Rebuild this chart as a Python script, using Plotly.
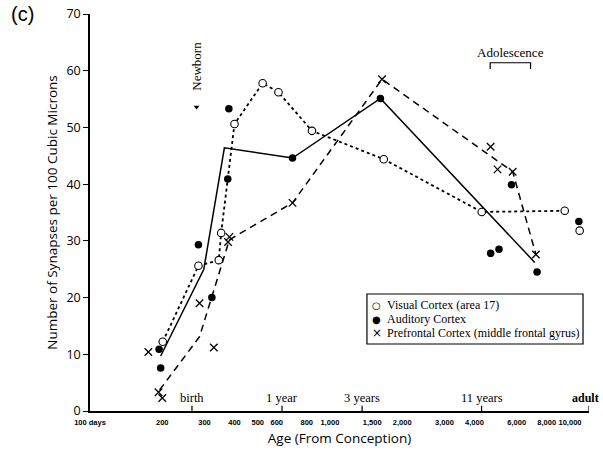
import numpy as np
import plotly.graph_objects as go

# ---------------- data (age in days from conception, synapses per 100 cubic microns)
visual_age = [201, 283, 344, 352, 400, 524, 610, 841, 1675, 4286, 9506, 10970]
visual_val = [12.2, 25.6, 26.6, 31.4, 50.6, 57.8, 56.2, 49.4, 44.4, 35.1, 35.3, 31.8]
visual_line_age = [201, 283, 344, 352, 400, 524, 610, 841, 1675, 4286, 9506]
visual_line_val = [12.2, 25.6, 26.6, 31.4, 50.6, 57.8, 56.2, 49.4, 44.4, 35.1, 35.3]

auditory_age = [194, 197, 283, 322, 375, 379, 698, 1622, 4670, 5060, 5700, 7290, 10890]
auditory_val = [10.9, 7.6, 29.3, 20.0, 40.9, 53.3, 44.6, 55.1, 27.8, 28.5, 39.9, 24.5, 33.4]
auditory_line_age = [197, 298, 363, 698, 1622, 7130]
auditory_line_val = [9.7, 25.0, 46.4, 44.6, 55.1, 26.2]

prefrontal_age = [175, 193, 200, 286, 328, 376, 381, 698, 1648, 4670, 4990, 5770, 7210]
prefrontal_val = [10.4, 3.3, 2.3, 19.0, 11.2, 29.8, 30.7, 36.7, 58.5, 46.6, 42.6, 42.2, 27.6]
prefrontal_line_age = [195, 286, 381, 698, 1648, 5770, 7210]
prefrontal_line_val = [3.7, 13.1, 30.2, 36.7, 58.5, 42.2, 27.6]

series_names = ["Visual Cortex (area 17)", "Auditory Cortex", "Prefrontal Cortex (middle frontal gyrus)"]
legend_symbols = ["○", "●", "×"]

tick_vals = [100, 200, 300, 400, 500, 600, 800, 1000, 1500, 2000, 3000, 4000, 6000, 8000, 10000]
tick_text = ["100 days", "200", "300", "400", "500", "600", "800", "1,000", "1,500",
             "2,000", "3,000", "4,000", "6,000", "8,000", "10,000"]

milestone_age = [266, 631, 1361, 4281, 12000]
milestone_text = ["birth", "1 year", "3 years", "11 years", "adult"]

newborn_age = 278
newborn_marker_y = 53.6
newborn_text_y = 60.8
adolescence_start, adolescence_end = 4650, 6850
adolescence_y = 61.4

x_range = [100, 12000]
y_range = [0, 70]

serif = "Liberation Serif"
sans = "Open Sans"

fig = go.Figure()

# mean lines
fig.add_trace(go.Scatter(x=visual_line_age, y=visual_line_val, mode="lines",
                         line=dict(color="black", width=1.8, dash="dot"), showlegend=False, hoverinfo="skip"))
fig.add_trace(go.Scatter(x=auditory_line_age, y=auditory_line_val, mode="lines",
                         line=dict(color="black", width=1.5), showlegend=False, hoverinfo="skip"))
fig.add_trace(go.Scatter(x=prefrontal_line_age, y=prefrontal_line_val, mode="lines",
                         line=dict(color="black", width=1.5, dash="7px,5px"), showlegend=False, hoverinfo="skip"))

# markers
fig.add_trace(go.Scatter(x=visual_age, y=visual_val, mode="markers", name=series_names[0],
                         marker=dict(symbol="circle", size=7.5, color="white",
                                     line=dict(color="black", width=1.1)), showlegend=False))
fig.add_trace(go.Scatter(x=auditory_age, y=auditory_val, mode="markers", name=series_names[1],
                         marker=dict(symbol="circle", size=7.5, color="black"), showlegend=False))
fig.add_trace(go.Scatter(x=prefrontal_age, y=prefrontal_val, mode="markers", name=series_names[2],
                         marker=dict(symbol="x-thin", size=7.5, color="black",
                                     line=dict(color="black", width=1.3)), showlegend=False))

# newborn arrow
fig.add_trace(go.Scatter(x=[newborn_age], y=[newborn_marker_y], mode="markers", showlegend=False,
                         marker=dict(symbol="triangle-down", size=5, color="black"), hoverinfo="skip"))

annotations = [
    dict(text="(c)", xref="paper", yref="paper", x=-0.162, y=1.0, xanchor="left", yanchor="middle",
         showarrow=False, font=dict(family="Liberation Sans", size=20, color="black")),
    dict(text="Newborn", x=np.log10(newborn_age), y=newborn_text_y, xref="x", yref="y",
         textangle=-90, showarrow=False, font=dict(family=serif, size=13, color="black")),
    dict(text="Adolescence", x=np.log10(np.sqrt(adolescence_start * adolescence_end)), y=adolescence_y,
         xref="x", yref="y", yanchor="bottom", yshift=1, showarrow=False,
         font=dict(family=serif, size=13, color="black")),
]
for a, t in zip(milestone_age, milestone_text):
    if t == "adult":
        annotations.append(dict(text="<b>adult</b>", x=np.log10(a), y=0, xref="x", yref="y",
                                yanchor="bottom", xanchor="right", xshift=12, yshift=4, showarrow=False,
                                font=dict(family=serif, size=12, color="black")))
    else:
        annotations.append(dict(text=t, x=np.log10(a), y=0, xref="x", yref="y", yanchor="bottom",
                                yshift=4, showarrow=False,
                                font=dict(family=serif, size=12.5, color="black")))

# hand-built legend (compact rows like the original)
leg_x0, leg_x1, leg_y1, leg_y0 = 0.555, 0.988, 0.2947, 0.1688
row_y = [0.267, 0.2317, 0.1965]
for sym, name, ry in zip(legend_symbols, series_names, row_y):
    annotations.append(dict(text=sym, xref="paper", yref="paper", x=0.575, y=ry, xanchor="center",
                            yanchor="middle", showarrow=False,
                            font=dict(family="DejaVu Sans", size=10 if sym != "×" else 12, color="black")))
    annotations.append(dict(text=name, xref="paper", yref="paper", x=0.591, y=ry, xanchor="left",
                            yanchor="middle", showarrow=False,
                            font=dict(family=serif, size=12, color="black")))

shapes = [dict(type="rect", xref="paper", yref="paper", x0=leg_x0, x1=leg_x1, y0=leg_y0, y1=leg_y1,
               line=dict(color="black", width=1.2), fillcolor="rgba(0,0,0,0)")]
for a in milestone_age:
    shapes.append(dict(type="line", x0=a, x1=a, xref="x", yref="paper", y0=0, y1=0.013,
                       line=dict(color="black", width=1.2)))
# adolescence bracket
shapes.append(dict(type="path", xref="x", yref="y",
                   path=f"M {adolescence_start},{adolescence_y - 1.1} L {adolescence_start},{adolescence_y} "
                        f"L {adolescence_end},{adolescence_y} L {adolescence_end},{adolescence_y - 1.1}",
                   line=dict(color="black", width=1.2)))

fig.update_layout(
    width=603, height=452,
    margin=dict(l=90, r=14, t=14, b=41),
    paper_bgcolor="white", plot_bgcolor="white",
    showlegend=False,
    annotations=annotations,
    shapes=shapes,
)

fig.update_xaxes(type="log", range=[np.log10(x_range[0]), np.log10(x_range[1])],
                 tickmode="array", tickvals=tick_vals, ticktext=tick_text,
                 ticks="", showgrid=False, zeroline=False, automargin=False,
                 showline=True, linecolor="black", linewidth=1.5, ticklabelstandoff=3,
                 tickfont=dict(family="Liberation Sans", size=7.5, color="black", weight="bold"),
                 title=dict(text="Age (From Conception)", font=dict(family=sans, size=13.5, color="black"),
                            standoff=8))
fig.update_yaxes(range=y_range, tickmode="array", tickvals=list(range(0, 71, 10)),
                 ticks="outside", ticklen=5, tickcolor="black", tickwidth=1.2,
                 showgrid=False, zeroline=False, automargin=False,
                 showline=True, linecolor="black", linewidth=1.5,
                 tickfont=dict(family=sans, size=12.5, color="black"),
                 title=dict(text="Number of Synapses per 100 Cubic Microns",
                            font=dict(family=sans, size=13.5, color="black"), standoff=6))

fig.write_html("out.html", config={"displayModeBar": False},
               post_script="document.body.style.margin='0';")
